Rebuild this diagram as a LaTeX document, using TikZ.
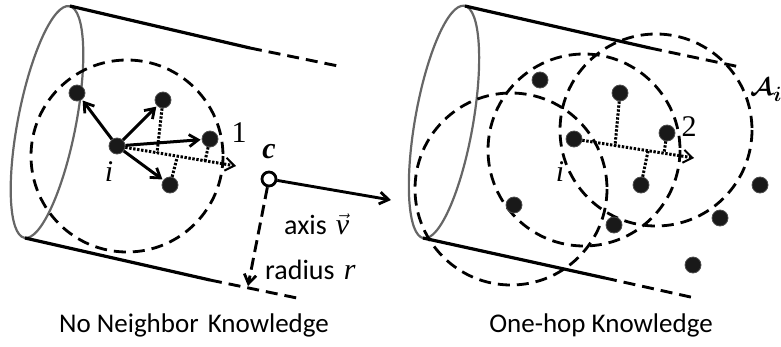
\documentclass[tikz,border=0pt]{standalone}
\usepackage{fontspec}
\setmainfont{Carlito}
\newfontfamily\serifpart{Liberation Serif}
\usetikzlibrary{arrows.meta}
\tikzset{
  dot/.style={circle,fill=black!90,draw=black!70,line width=0.8pt,inner sep=0pt,minimum size=16pt},
  tube/.style={draw=black!60,line width=2.2pt},
  wall/.style={line width=3.2pt},
  walldash/.style={line width=2.9pt,dash pattern=on 12pt off 7pt},
  reach/.style={line width=2.8pt,dash pattern=on 12pt off 7pt},
  hop/.style={line width=3pt,-{Straight Barb[length=9pt,width=12pt,line width=2.8pt]},shorten >=1pt},
  foot/.style={line width=3pt,dash pattern=on 2.4pt off 1.6pt},
  axisline/.style={foot,-{Straight Barb[length=9pt,width=13pt,line width=2pt]}},
  sketchlabel/.style={inner sep=0pt,font=\serifpart\fontsize{30}{30}\selectfont},
  caption/.style={inner sep=0pt,font=\fontsize{27}{27}\selectfont},
  sidelabel/.style={inner sep=0pt,anchor=west,font=\fontsize{28}{28}\selectfont}
}
\begin{document}
\begin{tikzpicture}[x=1pt,y=-1pt]
\useasboundingbox (0,0) rectangle (781,346);
% left
\draw[tube] (47,122) ellipse [x radius=29,y radius=118,rotate=-11];
\coordinate (lt) at (70,6);
\coordinate (lm) at (250,48);
\coordinate (le) at (343,67);
\coordinate (lb) at (25,238);
\coordinate (ln) at (210,280);
\coordinate (lf) at (297,298);
\draw[wall] (lt) -- (lm);
\draw[walldash] (lm) -- (le);
\draw[wall] (lb) -- (ln);
\draw[walldash] (ln) -- (lf);
\draw[reach] (127,156) circle (96);
\node[dot] (li) at (117,146) {};
\node[dot] (la) at (77,93) {};
\node[dot] (lc) at (163,100) {};
\node[dot] (ld) at (210,139) {};
\node[dot] (le2) at (170,185) {};
\draw[hop] (li) -- (la);
\draw[hop] (li) -- (lc);
\draw[hop] (li) -- (ld);
\draw[hop] (li) -- (le2);
\coordinate (laxis) at (236,166);
\draw[axisline] (li) -- (laxis);
\coordinate (lp1) at (157,153);
\coordinate (lp2) at (205,161);
\coordinate (lp3) at (177,158);
\draw[foot] (lc) -- (lp1);
\draw[foot] (ld) -- (lp2);
\draw[foot] (le2) -- (lp3);
\node[sketchlabel] (lone) at (239,133) {1};
\node[sketchlabel] (lilabel) at (109,172) {\textit{i}};
% cone parameters
\node[circle,draw,line width=2.8pt,fill=white,inner sep=0pt,minimum size=14pt] (cc) at (269,179) {};
\node[sketchlabel] (clabel) at (269,152) {\textit{\textbf{c}}};
\coordinate (aend) at (391,200);
\draw[line width=2.9pt,-{Straight Barb[length=9pt,width=12pt,line width=2.8pt]}] (cc) -- (aend);
\coordinate (rend) at (248,286);
\draw[line width=2.9pt,dash pattern=on 12pt off 6pt,-{Straight Barb[length=9pt,width=12pt,line width=2.8pt]}] (cc) -- (rend);
\node[sidelabel] (axislabel) at (284,224) {axis\hspace{9pt}$\vec{\mbox{\serifpart\fontsize{30}{30}\selectfont\textit{v}}}$};
\node[sidelabel] (radiuslabel) at (265,270) {radius\hspace{3pt} \serifpart\fontsize{30}{30}\selectfont\textit{r}};
\node[caption] (ltitle) at (194,325) {No Neighbor\hspace{3pt} Knowledge};
% right
\draw[tube] (444,122) ellipse [x radius=29,y radius=118,rotate=-10];
\coordinate (rt) at (465,6);
\coordinate (rm) at (650,48);
\coordinate (re) at (740,67);
\coordinate (rb) at (423,238);
\coordinate (rn) at (605,278);
\coordinate (rf) at (695,298);
\draw[wall] (rt) -- (rm);
\draw[walldash] (rm) -- (re);
\draw[wall] (rb) -- (rn);
\draw[walldash] (rn) -- (rf);
\draw[reach] (511,189) circle (96);
\draw[reach] (584,150) circle (96);
\draw[reach] (656,130) circle (96);
\node[dot] (ri) at (574,139) {};
\node[dot] (ra) at (540,80) {};
\node[dot] (rc) at (620,93) {};
\node[dot] (rd) at (667,133) {};
\node[dot] (re2) at (641,185) {};
\node[dot] (rg) at (514,205) {};
\node[dot] (rh) at (614,225) {};
\node[dot] (rj) at (720,218) {};
\node[dot] (rk) at (760,185) {};
\node[dot] (rl) at (693,265) {};
\coordinate (raxis) at (694,158);
\draw[axisline] (ri) -- (raxis);
\coordinate (rp1) at (615,146);
\coordinate (rp2) at (664,153);
\coordinate (rp3) at (648,151);
\draw[foot] (rc) -- (rp1);
\draw[foot] (rd) -- (rp2);
\draw[foot] (re2) -- (rp3);
\node[sketchlabel] (rtwo) at (689,127) {2};
\node[sketchlabel] (rilabel) at (560,172) {\textit{i}};
\node[inner sep=0pt,anchor=west,font=\fontsize{30}{30}\selectfont] (setlabel) at (750,90) {{\boldmath$\mathcal{A}_i$}};
\node[caption] (rtitle) at (601,325) {One-hop Knowledge};
\end{tikzpicture}
\end{document}
